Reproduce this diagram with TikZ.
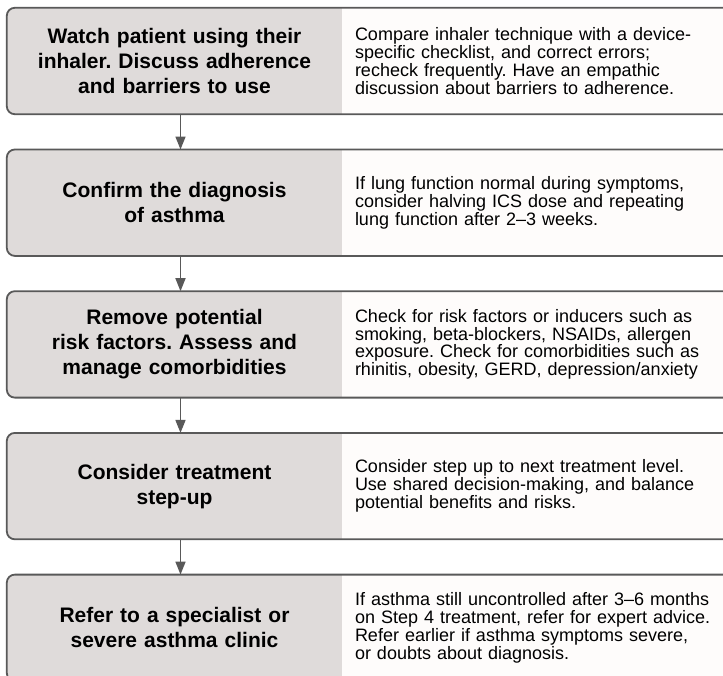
\documentclass[tikz,border=0pt]{standalone}
\usepackage{fontspec}
\setmainfont{Liberation Sans}
\usetikzlibrary{positioning,backgrounds,arrows.meta}
\definecolor{stepgray}{RGB}{223,219,218}
\definecolor{notewhite}{RGB}{254,252,251}
\definecolor{edgegray}{RGB}{89,89,89}
\frenchspacing

\begin{document}
\begin{tikzpicture}[x=1pt,y=1pt,node distance=141.7pt,on grid,
  stepbox/.style={text width=310pt,inner xsep=12.5pt,inner ysep=0pt,minimum height=106pt,
    align=center,font=\fontsize{21}{25}\selectfont\bfseries},
  notebox/.style={text width=380pt,inner xsep=13pt,inner ysep=0pt,minimum height=106pt,
    align=left,font=\fontsize{18}{17.8}\selectfont},
  rowedge/.style={draw=edgegray,line width=1.8pt,rounded corners=8pt},
  flow/.style={draw=edgegray,line width=1.6pt,-{Triangle[width=10pt,length=13pt]}}]
 \useasboundingbox (0,0) rectangle (723,-675);
 \clip (0,0) rectangle (723,-675);
 % steps
 \node[stepbox] (s1) at (174.5,-61) {Watch patient using their\\inhaler. Discuss adherence\\and barriers to use};
 \node[stepbox] (s2) [below=of s1] {Confirm the diagnosis\\of asthma};
 \node[stepbox] (s3) [below=of s2] {Remove potential\\risk factors. Assess and\\manage comorbidities};
 \node[stepbox] (s4) [below=of s3] {Consider treatment\\step-up};
 \node[stepbox] (s5) [below=of s4] {Refer to a specialist or\\severe asthma clinic};
 % notes
 \node[notebox] (n1) [right=370.5pt of s1] {Compare inhaler technique with a device-\\specific checklist, and correct errors;\\recheck frequently. Have an empathic\\discussion about barriers to adherence.};
 \node[notebox] (n2) [right=370.5pt of s2] {If lung function normal during symptoms,\\consider halving ICS dose and repeating\\lung function after 2–3 weeks.};
 \node[notebox] (n3) [right=370.5pt of s3] {Check for risk factors or inducers such as\\smoking, beta-blockers, NSAIDs, allergen\\exposure. Check for comorbidities such as\\rhinitis, obesity, GERD, depression/anxiety};
 \node[notebox] (n4) [right=370.5pt of s4] {Consider step up to next treatment level.\\Use shared decision-making, and balance\\potential benefits and risks.};
 \node[notebox] (n5) [right=370.5pt of s5] {If asthma still uncontrolled after 3–6 months\\on Step 4 treatment, refer for expert advice.\\Refer earlier if asthma symptoms severe,\\or doubts about diagnosis.};
 % row frames
 \begin{scope}[on background layer]
  \clip (0,0) rectangle (723,-675);
  \foreach \i in {1,...,5} {
   \begin{scope}
    \clip[rounded corners=8pt] (s\i.north west) rectangle (n\i.south east);
    \fill[stepgray] (s\i.north west) rectangle (s\i.south east);
    \fill[notewhite] (n\i.north west) rectangle (n\i.south east);
   \end{scope}
   \draw[rowedge] (s\i.north west) rectangle (n\i.south east);
  }
 \end{scope}
 \foreach \i/\j in {1/2,2/3,3/4,4/5}
  \draw[flow] ([xshift=6pt]s\i.south) -- ([xshift=6pt]s\j.north);
\end{tikzpicture}
\end{document}
